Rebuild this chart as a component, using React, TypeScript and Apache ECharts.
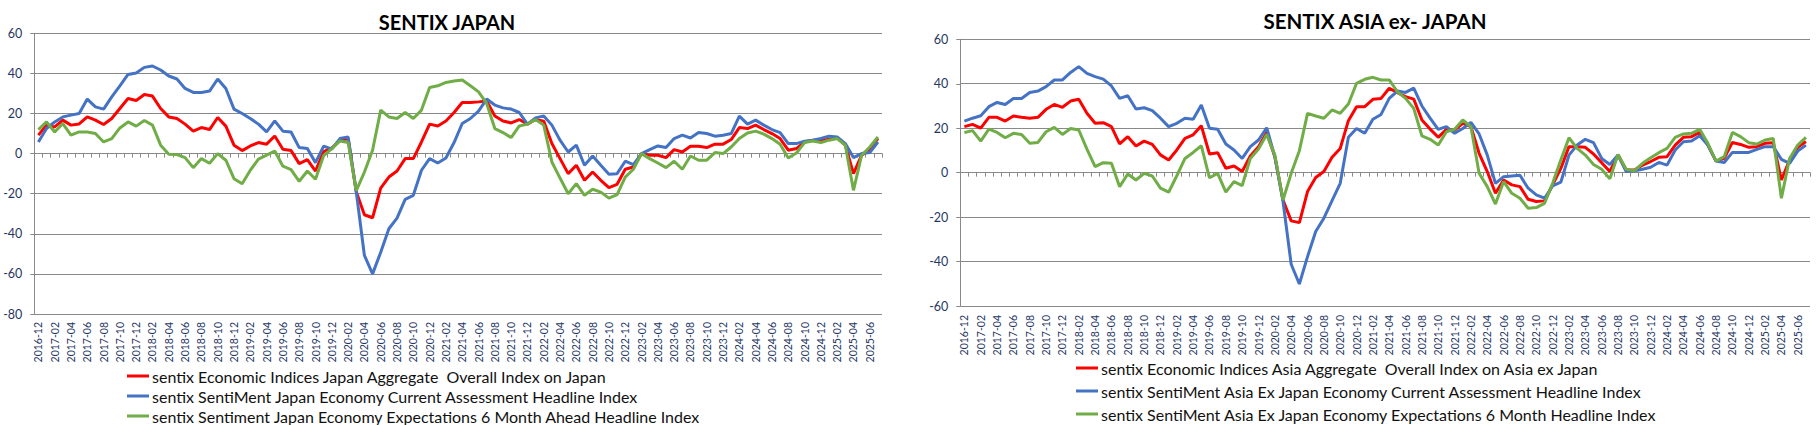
import React, { useEffect, useRef } from "react";
import * as echarts from "echarts";

// ---------- DATA ----------
function buildMonths(startYear: number, startMonth: number, count: number): string[] {
  const out: string[] = [];
  let y = startYear;
  let m = startMonth;
  for (let k = 0; k < count; k++) {
    out.push(`${y}-${m < 10 ? "0" + m : m}`);
    m++;
    if (m > 12) { m = 1; y++; }
  }
  return out;
}
const months: string[] = buildMonths(2016, 12, 104);

const jpNames = [
  "sentix Economic Indices Japan Aggregate  Overall Index on Japan",
  "sentix SentiMent Japan Economy Current Assessment Headline Index",
  "sentix Sentiment Japan Economy Expectations 6 Month Ahead Headline Index",
];
const asNames = [
  "sentix Economic Indices Asia Aggregate  Overall Index on Asia ex Japan",
  "sentix SentiMent Asia Ex Japan Economy Current Assessment Headline Index",
  "sentix SentiMent Asia Ex Japan Economy Expectations 6 Month Headline Index",
];

const jpOverall = [
  9.2, 14.2, 13.3, 16.7, 14.2, 14.8, 18.3, 16.7, 14.5, 17.5,
  22.5, 27.5, 26.5, 29.5, 28.7, 22.5, 18.3, 17.5, 14.7, 11.2,
  13, 12, 18, 13.7, 4.2, 1.5, 3.8, 5.5, 4.7, 8.8,
  2.2, 1.5, -5, -3, -8.7, 1, 2.8, 6.5, 7.5, -19,
  -30.5, -32, -17.2, -11.7, -8.7, -2.5, -2.5, 5.8, 14.7, 13.8,
  16.3, 20.5, 25.5, 25.5, 25.8, 26.2, 18.8, 16.3, 15.3, 17,
  14.7, 17, 16.2, 5, -2.5, -10, -5.8, -13.3, -9.2, -13.3,
  -17, -15.3, -7.8, -6.7, 0, -0.8, -0.8, -2, 2, 0.8,
  3.7, 3.7, 3, 4.7, 4.7, 7, 13, 12.5, 14.2, 12,
  10, 7.5, 1.7, 2.5, 5.8, 6.7, 6.3, 7.2, 7.8, 4.2,
  -10, -0.8, 2.2, 7.5,
];
const jpCurrent = [
  5.8, 12.5, 15.8, 18.3, 19.2, 20, 27.2, 23.3, 22.2, 28.3,
  33.8, 39.5, 40.2, 43, 43.7, 41.7, 38.7, 37.2, 32.5, 30.5,
  30.5, 31.2, 37.2, 32.5, 22.2, 20, 17.5, 14.7, 10.8, 16.3,
  11.2, 10.8, 3, 2.5, -4.5, 3.7, 2.2, 7.5, 8.3, -19,
  -50.8, -60, -49.2, -37.5, -32.2, -22.8, -20.8, -8.3, -2.5, -4.7,
  -2.2, 5.5, 15, 17.5, 21.2, 27.2, 24.2, 22.8, 22.2, 20.5,
  14.7, 17.8, 18.8, 14.2, 6.7, 0.8, 4.2, -5.8, -1.2, -5.8,
  -10.3, -10, -3.8, -5.5, 0, 2, 3.8, 3, 7.5, 9.2,
  7.8, 10.5, 10, 8.7, 9.2, 10, 18.7, 14.7, 16.7, 14.2,
  12, 10.5, 5, 5, 6.2, 6.7, 7.5, 8.7, 8.3, 5,
  -2, 0, 0.5, 5.8,
];
const jpExpect = [
  12, 15.8, 10.8, 15, 9.2, 10.8, 10.8, 10, 5.8, 7.5,
  12.8, 15.8, 13.7, 16.5, 14.2, 4.2, -0.3, -0.5, -2, -7,
  -2.5, -4.8, 0, -3.3, -12.5, -15, -8.3, -2.8, -0.8, 1.3,
  -6.3, -8, -13.8, -8.7, -12.8, -1, 2.5, 6.3, 5.5, -18.5,
  -9.2, 1.7, 21.7, 18.3, 17.5, 20.5, 17.5, 21.7, 33, 33.8,
  35.5, 36.2, 36.7, 33.8, 30.8, 25, 12.5, 10.5, 8, 13.8,
  14.7, 17, 14.2, -4.2, -12.2, -20, -15, -20.8, -17.8, -19.2,
  -22.2, -20.5, -11.7, -7.8, 0, -2.5, -4.7, -7, -3.8, -7.8,
  -1.2, -3.3, -3.3, 0.5, 0, 3.3, 7.5, 10.3, 11.2, 9.7,
  7.5, 4.7, -2.2, 0.3, 5.5, 6.3, 5.5, 6.7, 7.5, 4.2,
  -18.3, -0.8, 3.3, 8.3,
];

const asOverall = [
  20.7, 21.7, 20, 24.9, 24.9, 23.2, 25.5, 24.9, 24.5, 24.9,
  28.5, 30.7, 29.4, 32.2, 33, 26.7, 22.2, 22.5, 20.7, 12.9,
  16.2, 12, 14.2, 12.7, 8, 5.7, 10.2, 15.4, 17, 21.1,
  8.4, 9, 2, 3, 0.5, 7.5, 11.7, 18.1, 7.2, -12.3,
  -21.7, -22.5, -8.5, -2.2, 0.5, 6.9, 10.9, 23.4, 29.7, 29.7,
  33, 33.4, 38, 36, 34.2, 33.1, 23.7, 19.6, 15.9, 19.5,
  19.2, 22.2, 20.7, 8.7, 0.5, -9.3, -3.3, -5.5, -6.3, -12,
  -13, -12.7, -5.5, 1.9, 11.7, 11.7, 11.4, 8.4, 4.5, 0.5,
  7.9, 1.2, 1.2, 3.4, 5, 6.9, 7.2, 12.4, 15.9, 16.2,
  18.1, 12.4, 5.2, 6.4, 13.6, 12.7, 11.4, 11.7, 13.2, 13.5,
  -3.3, 5.7, 11.4, 14,
];
const asCurrent = [
  23.2, 24.5, 25.6, 29.7, 31.6, 30.7, 33.4, 33.4, 36.1, 36.7,
  38.7, 41.7, 41.7, 45.1, 47.7, 44.7, 43.2, 42.1, 39, 33.4,
  34.6, 28.6, 29.2, 27.9, 24.5, 20.7, 22.2, 24.5, 24, 30.4,
  20, 19.5, 12.9, 10.2, 6.4, 11.7, 14.7, 20.2, 7.2, -13,
  -41.2, -50.1, -37.8, -26.5, -20.5, -12.6, -4.8, 15.9, 19.9, 17.7,
  24, 26.2, 33.4, 36.7, 36.1, 38, 30, 24.5, 19.5, 20.7,
  17.7, 19.9, 22.6, 17.4, 7.9, -4.8, -1.8, -1.5, -1.2, -7,
  -10, -11.5, -6, -4.3, 7.9, 12.4, 15, 13.5, 6.4, 3.7,
  7.9, 0.5, 0.9, 1.5, 2.4, 4.6, 3.4, 10.2, 13.9, 14.2,
  16.6, 12.4, 5.2, 4.6, 9.1, 9.1, 9.1, 10.5, 11.7, 11.7,
  6, 4.2, 9.7, 12.4,
];
const asExpect = [
  18.1, 18.9, 14.2, 19.6, 18.1, 15.7, 17.7, 17.2, 13.2, 13.6,
  18.4, 20.4, 17.2, 19.9, 19.2, 10.6, 2.7, 4.5, 4.2, -6.3,
  -0.6, -3.3, -0.3, -1.5, -7, -8.8, -1.4, 6.4, 9.1, 12.1,
  -2.3, -0.3, -8.8, -4, -5.8, 6.4, 10.6, 17.2, 7.9, -12.3,
  -0.3, 9.9, 26.7, 25.5, 24.5, 28.2, 26.7, 30.9, 40.2, 42,
  42.9, 41.7, 41.7, 36.4, 33.4, 28.9, 16.5, 15, 12.4, 18.4,
  19.5, 23.7, 20.7, -0.3, -6.3, -14.1, -4, -9.3, -11.5, -16,
  -15.7, -13.8, -4.8, 5.7, 15.7, 10.9, 7.9, 3.7, 1.5, -2.8,
  8.2, 1.5, 0.9, 4.2, 6.7, 9, 10.9, 15.9, 17.4, 17.7,
  19.5, 13.2, 5.2, 7.2, 18.1, 16.2, 13.5, 12.9, 14.7, 15.4,
  -11.5, 6.4, 12.4, 15.9,
];

const titles = ["SENTIX JAPAN", "SENTIX ASIA ex- JAPAN"];
const yRanges = [
  { min: -80, max: 60 },
  { min: -60, max: 60 },
];

// ---------- STYLE ----------
const FONT = 'Lato, "Noto Sans", "Liberation Sans", sans-serif';
const NAVY = "#1F3864";
const GRID_GREY = "#898989";
const RED = "#FF0000";
const BLUE = "#4472C4";
const GREEN = "#70AD47";

function labelAxis(gridIndex: number) {
  return {
    type: "category",
    gridIndex,
    data: months,
    boundaryGap: true,
    position: "bottom",
    axisLine: { show: false, onZero: false },
    axisTick: { show: false },
    splitLine: { show: false },
    axisLabel: {
      rotate: 90,
      interval: 1,
      fontSize: 10.5,
      color: NAVY,
      fontFamily: FONT,
      margin: gridIndex === 0 ? 8 : 9,
    },
  };
}
function tickAxis(gridIndex: number) {
  return {
    type: "category",
    gridIndex,
    data: months,
    boundaryGap: true,
    position: "bottom",
    axisLine: { show: true, onZero: true, lineStyle: { color: GRID_GREY, width: 1 } },
    axisTick: { show: true, interval: 0, length: 4, lineStyle: { color: GRID_GREY, width: 1 } },
    axisLabel: { show: false },
    splitLine: { show: false },
  };
}
function valueAxis(gridIndex: number) {
  return {
    type: "value",
    gridIndex,
    min: yRanges[gridIndex].min,
    max: yRanges[gridIndex].max,
    interval: 20,
    axisLine: { show: true, lineStyle: { color: GRID_GREY, width: 1 } },
    axisTick: { show: true, length: 4, lineStyle: { color: GRID_GREY, width: 1 } },
    splitLine: { show: true, lineStyle: { color: GRID_GREY, width: 1 } },
    axisLabel: { fontSize: 12.5, color: NAVY, fontFamily: FONT, margin: 12 },
  };
}
function lineSeries(name: string, data: number[], color: string, chart: number) {
  return {
    type: "line",
    name,
    data,
    xAxisIndex: chart * 2,
    yAxisIndex: chart,
    symbol: "none",
    showSymbol: false,
    lineStyle: { color, width: 3 },
    itemStyle: { color },
    z: 3,
  };
}
function legendBlock(names: string[], left: number, top: number, gap: number) {
  return {
    data: names,
    orient: "vertical",
    left,
    top,
    height: 120,
    padding: 0,
    icon: "rect",
    itemWidth: 22,
    itemHeight: 3,
    itemGap: gap,
    selectedMode: false,
    textStyle: { fontSize: 16, lineHeight: 16, color: "#111", fontFamily: FONT, padding: [0, 0, 0, -2] },
  };
}

export default function App() {
  const ref = useRef<HTMLDivElement>(null);
  useEffect(() => {
    if (!ref.current) return;
    const chart = echarts.init(ref.current, undefined, { renderer: "svg" });
    const option: any = {
      animation: false,
      backgroundColor: "#ffffff",
      textStyle: { fontFamily: FONT },
      graphic: [
        {
          type: "text",
          x: 447,
          y: 22,
          style: {
            text: titles[0],
            fill: "#000",
            font: `bold 20px ${FONT}`,
            align: "center",
            verticalAlign: "middle",
          },
        },
        {
          type: "text",
          x: 1375,
          y: 21,
          style: {
            text: titles[1],
            fill: "#000",
            font: `bold 20.5px ${FONT}`,
            align: "center",
            verticalAlign: "middle",
          },
        },
      ],
      legend: [legendBlock(jpNames, 127, 368, 4), legendBlock(asNames, 1076, 360, 7)],
      grid: [
        { left: 34.3, top: 33.3, width: 847.7, height: 280.7, containLabel: false, outerBoundsMode: "none" },
        { left: 960.3, top: 39.3, width: 849.7, height: 266.7, containLabel: false, outerBoundsMode: "none" },
      ],
      xAxis: [labelAxis(0), tickAxis(0), labelAxis(1), tickAxis(1)],
      yAxis: [valueAxis(0), valueAxis(1)],
      series: [
        lineSeries(jpNames[0], jpOverall, RED, 0),
        lineSeries(jpNames[1], jpCurrent, BLUE, 0),
        lineSeries(jpNames[2], jpExpect, GREEN, 0),
        lineSeries(asNames[0], asOverall, RED, 1),
        lineSeries(asNames[1], asCurrent, BLUE, 1),
        lineSeries(asNames[2], asExpect, GREEN, 1),
      ],
    };
    chart.setOption(option);
    return () => chart.dispose();
  }, []);
  return (
    <div
      ref={ref}
      style={{ position: "fixed", left: 0, top: 0, width: 1818, height: 425, background: "#fff" }}
    />
  );
}
